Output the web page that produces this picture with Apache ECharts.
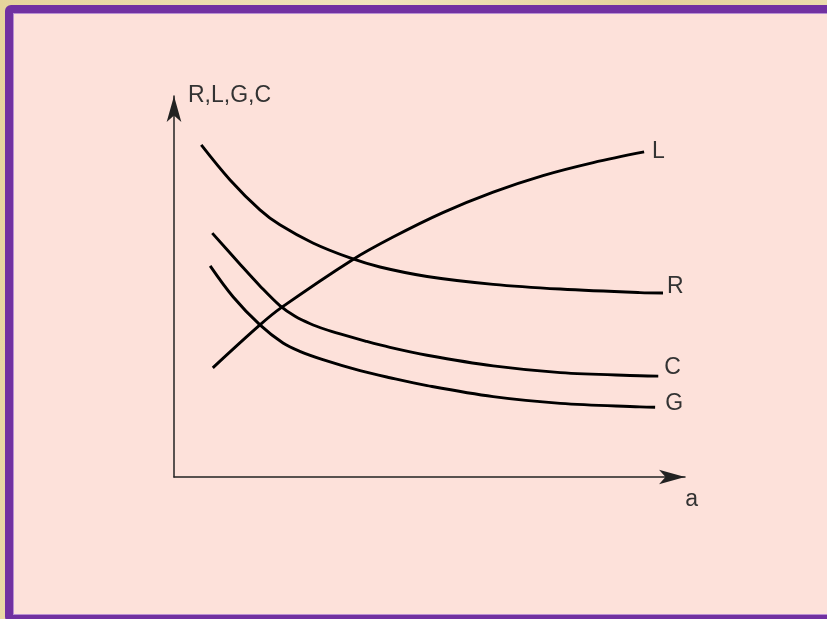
<!DOCTYPE html>
<html>
<head>
<meta charset="utf-8">
<script src="https://cdn.jsdelivr.net/npm/echarts@6/dist/echarts.min.js"></script>
<style>
  html, body { margin: 0; padding: 0; width: 827px; height: 619px; overflow: hidden;
    background: linear-gradient(100deg, #e6d49c 0%, #f0e4bd 40%, #e4d29a 70%, #efe2b8 100%); }
  /* slide frame: purple border, pink panel */
  #frame { position: absolute; left: 5px; top: 5px; width: 850px; height: 618px;
    box-sizing: border-box; border: 8px solid #7131a1; border-radius: 6px;
    background: #fde1da; box-shadow: inset 0 0 0 1px #b88fd2; }
  #chart { position: absolute; left: 0; top: 0; width: 827px; height: 619px; }
</style>
</head>
<body>
<div id="frame"></div>
<div id="chart"></div>
<script>
// Line parameters versus a: x positions and values for each curve
const rX = [0.52, 1.07, 1.64, 2.02, 2.65, 3.36, 3.93, 4.83, 6.09, 7.37, 8.89, 9.33];
const rY = [8.43, 7.54, 6.78, 6.40, 5.94, 5.56, 5.33, 5.09, 4.89, 4.77, 4.68, 4.67];

const lX = [0.74, 1.64, 2.06, 3.40, 4.18, 5.13, 6.09, 7.04, 8.00, 8.97];
const lY = [2.77, 3.86, 4.31, 5.51, 6.09, 6.71, 7.23, 7.65, 7.98, 8.25];

const cX = [0.73, 1.26, 1.64, 2.02, 2.31, 2.60, 2.88, 3.17, 3.65, 4.12, 4.83, 6.09, 7.37, 8.89, 9.24];
const cY = [6.19, 5.40, 4.85, 4.35, 4.08, 3.89, 3.75, 3.63, 3.45, 3.29, 3.09, 2.82, 2.65, 2.57, 2.56];

const gX = [0.69, 1.13, 1.64, 2.08, 2.40, 2.84, 3.55, 4.12, 4.83, 6.09, 7.37, 8.89, 9.18];
const gY = [5.36, 4.57, 3.86, 3.40, 3.19, 2.98, 2.70, 2.52, 2.32, 2.04, 1.87, 1.78, 1.77];

const xName = 'a';
const yName = 'R,L,G,C';

const pairs = (xs, ys) => xs.map((x, i) => [x, ys[i]]);
const textColor = '#333';
const font = 'Liberation Sans, Arial, sans-serif';

function curve(name, xs, ys, offset) {
  return {
    name: name,
    type: 'line',
    data: pairs(xs, ys),
    showSymbol: false,
    smooth: 0.35,
    silent: true,
    lineStyle: { color: '#000', width: 2.9 },
    endLabel: {
      show: true,
      formatter: name,
      distance: 0,
      offset: offset,
      color: textColor,
      fontSize: 23,
      fontFamily: font
    }
  };
}

const chart = echarts.init(document.getElementById('chart'), null, { renderer: 'canvas' });
chart.setOption({
  animation: false,
  backgroundColor: 'transparent',
  grid: { left: 174, top: 96, right: 142, bottom: 142 },
  xAxis: {
    type: 'value', min: 0, max: 9.75,
    name: xName, nameLocation: 'end', nameGap: 13,
    nameTextStyle: { color: textColor, fontSize: 23, fontFamily: font,
      align: 'right', verticalAlign: 'top', padding: [11, 0, 0, 0] },
    axisLine: { show: true, lineStyle: { color: '#222', width: 1.5 },
      symbol: ['none', 'arrow'], symbolSize: [11, 26] },
    axisTick: { show: false }, axisLabel: { show: false }, splitLine: { show: false }
  },
  yAxis: {
    type: 'value', min: 0, max: 9.67,
    name: yName, nameLocation: 'end', nameGap: 0,
    nameTextStyle: { color: textColor, fontSize: 23, fontFamily: font,
      align: 'left', verticalAlign: 'middle', padding: [0, 0, 0, 14] },
    axisLine: { show: true, lineStyle: { color: '#222', width: 1.5 },
      symbol: ['none', 'arrow'], symbolSize: [11, 26] },
    axisTick: { show: false }, axisLabel: { show: false }, splitLine: { show: false }
  },
  series: [
    curve('L', lX, lY, [8, 0]),
    curve('R', rX, rY, [4, -6]),
    curve('C', cX, cY, [6, -8]),
    curve('G', gX, gY, [10, -4])
  ]
});
</script>
</body>
</html>
